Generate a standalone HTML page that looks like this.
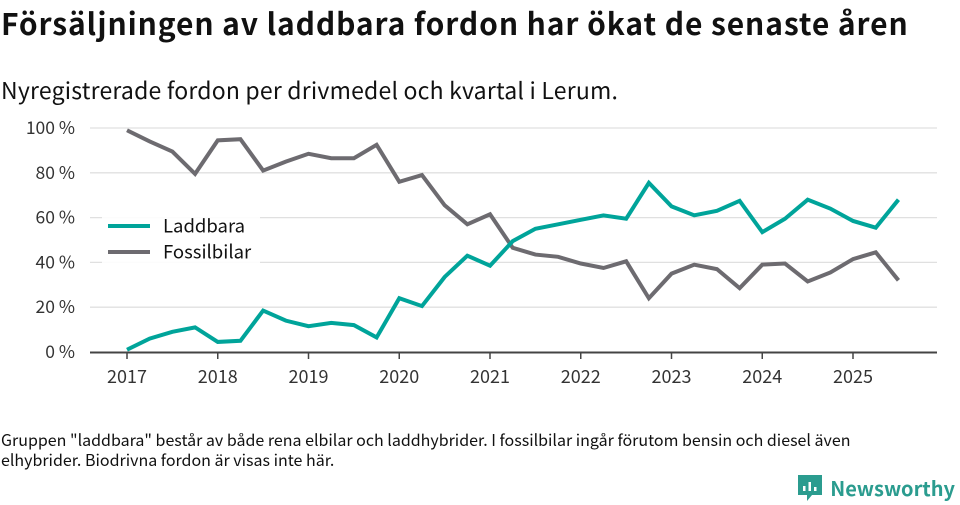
<!DOCTYPE html>
<html><head><meta charset="utf-8"><style>
body{margin:0;width:960px;height:505px;background:#fff;font-family:"Noto Sans CJK SC","Liberation Sans",sans-serif;color:#111;position:relative;overflow:hidden}
.t{position:absolute;left:1px;top:1px;font-size:30px;letter-spacing:0.9px;font-weight:bold;white-space:nowrap;line-height:42px}
.s{position:absolute;left:1px;top:72px;font-size:23px;letter-spacing:0.2px;white-space:nowrap;line-height:34px}
.f{position:absolute;left:1px;top:429px;font-size:16px;line-height:20px;width:905px}
.logo{position:absolute;right:5px;top:474px;display:flex;align-items:center;color:#2b9c8f;font-size:20px;font-weight:bold;line-height:28px}
</style></head><body>
<div class="t">Försäljningen av laddbara fordon har ökat de senaste åren</div>
<div class="s">Nyregistrerade fordon per drivmedel och kvartal i Lerum.</div>
<svg id="c" width="960" height="505" style="position:absolute;left:0;top:0"></svg>
<div class="f">Gruppen "laddbara" består av både rena elbilar och laddhybrider. I fossilbilar ingår förutom bensin och diesel även elhybrider. Biodrivna fordon är visas inte här.</div>
<div class="logo"><svg width="26" height="28" style="margin-right:7px"><path d="M1 1h24v20h-10l-5 6v-6H1z" fill="#2b9c8f"/><rect x="6" y="12" width="2.5" height="5" fill="#fff"/><rect x="11.5" y="8" width="2.5" height="9" fill="#fff"/><rect x="17" y="13" width="2.5" height="4" fill="#fff"/></svg>Newsworthy</div>
<script>
const years=[2017,2018,2019,2020,2021,2022,2023,2024,2025];
const yTicks=[0,20,40,60,80,100];
const laddbara=[1,6,9,11,4.5,5,18.5,14,11.5,13,12,6.5,24,20.5,33.5,43,38.5,49.5,55,57,59,61,59.5,75.5,65,61,63,67.5,53.5,59.5,68,64,58.5,55.5,68];
const fossil=[99,94,89.5,79.5,94.5,95,81,85,88.5,86.5,86.5,92.5,76,79,65.5,57,61.5,46.5,43.5,42.5,39.5,37.5,40.5,24,35,39,37,28.5,39,39.5,31.5,35.5,41.5,44.5,32];
const NS="http://www.w3.org/2000/svg",svg=document.getElementById('c');
const X=i=>127+i*22.69, XY=y=>127+(y-2017)*90.75, Y=v=>352-v*2.24;
function mk(t,a,p){const e=document.createElementNS(NS,t);for(const k in a)e.setAttribute(k,a[k]);(p||svg).appendChild(e);return e;}
yTicks.forEach(v=>{
 if(v>0){const g=mk('line',{x1:90,x2:937,y1:Y(v),y2:Y(v),stroke:'#e0e0e0','stroke-width':1.3});
 
 }
 const t=mk('text',{x:75,y:Y(v)+6,'text-anchor':'end','font-size':17.5,fill:'#333','font-family':'"Noto Sans CJK SC",sans-serif'});t.textContent=v+' %';
 
 
});
const ax=mk('line',{x1:90,x2:937,y1:352.5,y2:352.5,stroke:'#444','stroke-width':2});


years.forEach(y=>{
 mk('line',{x1:XY(y),x2:XY(y),y1:352,y2:359,stroke:'#444','stroke-width':1.5});
 const t=mk('text',{x:XY(y),y:383,'text-anchor':'middle','font-size':18,fill:'#333','font-family':'"Noto Sans CJK SC",sans-serif'});t.textContent=y;
 
 
});
function line(d,c,n){const p=mk('polyline',{points:d.map((v,i)=>X(i)+','+Y(v)).join(' '),fill:'none',stroke:c,'stroke-width':4,'stroke-linejoin':'miter'});
 
 }
line(fossil,'#6d6b70','fossilbilar-line');
line(laddbara,'#00a49a','laddbara-line');
const lg=mk('g',{});


mk('rect',{x:102,y:217,width:158,height:47,fill:'#fff','fill-opacity':0.9},lg);
[['Laddbara','#00a49a',226],['Fossilbilar','#6d6b70',252]].forEach(([n,c,y])=>{
 const g=mk('g',{},lg);
 
 
 mk('line',{x1:108,x2:150,y1:y,y2:y,stroke:c,'stroke-width':4},g);
 const t=mk('text',{x:163,y:y+6.5,'font-size':18.5,fill:'#111','font-family':'"Noto Sans CJK SC",sans-serif'},g);t.textContent=n;
});
</script>
</body></html>
